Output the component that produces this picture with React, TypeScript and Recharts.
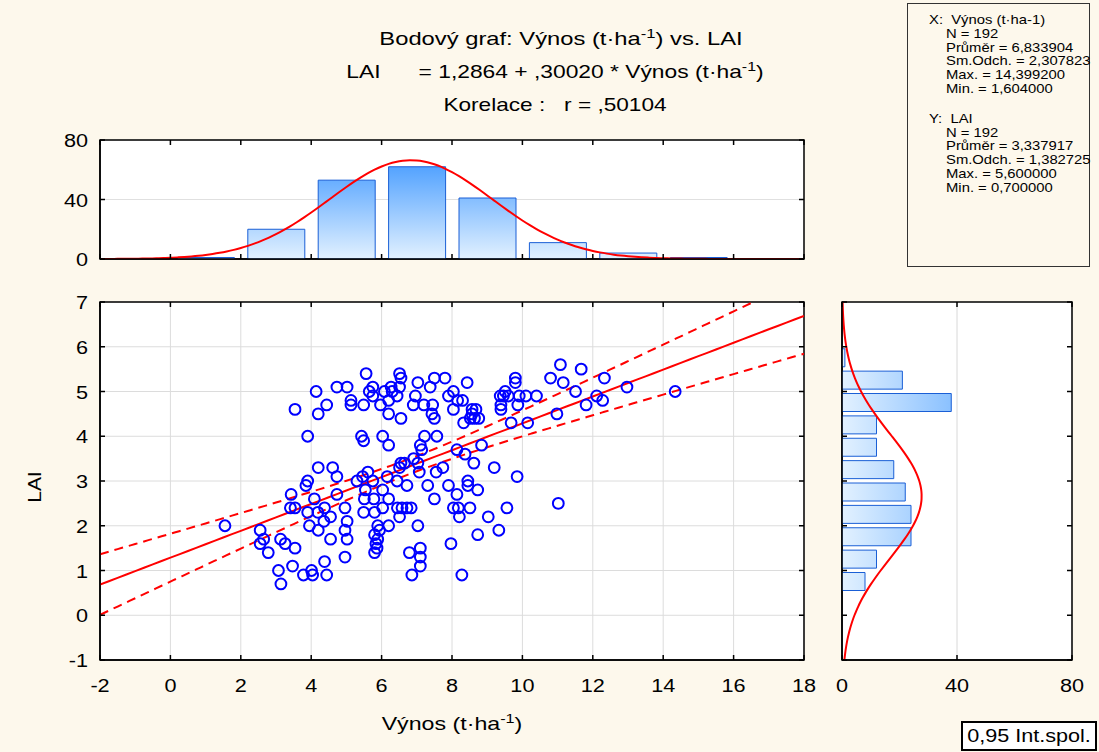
import React from 'react'
import {
  ComposedChart,
  Scatter,
  Line,
  Bar,
  XAxis,
  YAxis,
  CartesianGrid,
  ReferenceArea,
} from 'recharts'

const FONT = '"Liberation Sans", Arial, sans-serif'

// scatter: Výnos (t·ha-1) vs LAI
const yieldVals = [
  5.56, 6.51, 6.55, 4.73, 5.02, 4.14, 5.75, 5.65, 5.75, 6.08, 6.27, 6.3, 6.51, 6.44, 6.2, 7.03, 7.38, 7.5, 7.8, 6.96,
  5.13, 5.13, 4.44, 3.54, 4.2, 5.49, 5.97, 6.2, 6.55, 6.9, 7.2, 7.45, 7.43, 7.5, 3.9, 5.43, 5.49, 6.03, 6.2, 7.22,
  7.57, 7.1, 7.14, 6.91, 4.2, 4.61, 5.61, 8.43, 7.9, 8.04, 8.16, 8.3, 8.04, 8.57, 8.68, 8.57, 8.64, 8.76, 8.52, 8.33,
  9.37, 9.51, 9.46, 9.6, 9.8, 9.8, 9.91, 10.1, 10.4, 9.39, 9.39, 9.87, 9.68, 10.15, 10.8, 11.08, 11.16, 11.67, 12.33, 11.51,
  10.98, 11.81, 12.11, 12.28, 12.97, 14.34, 8.84, 8.14, 8.37, 8.62, 9.2, 7.74, 1.55, 2.55, 2.65, 2.55, 2.78, 3.13, 3.26, 3.54,
  3.07, 3.14, 3.47, 3.78, 4.01, 4.04, 4.44, 4.38, 3.43, 3.41, 3.54, 3.9, 3.85, 4.73, 4.73, 4.09, 3.9, 4.19, 4.38, 4.55,
  4.36, 3.95, 4.2, 4.55, 4.96, 5.02, 4.96, 5.02, 4.96, 5.3, 5.46, 5.54, 5.51, 5.49, 5.78, 5.8, 5.75, 6.03, 6.2, 6.03,
  5.89, 5.94, 5.8, 5.89, 5.84, 5.8, 5.87, 6.2, 6.16, 6.44, 6.72, 6.45, 6.58, 6.72, 6.84, 6.51, 7.03, 6.79, 7.1, 7.1,
  7.1, 6.86, 7.31, 7.5, 7.55, 7.07, 9.85, 7.9, 8.45, 8.45, 8.73, 8.14, 8.04, 8.18, 8.51, 8.21, 9.03, 9.56, 11.02, 9.33,
  8.73, 7.97, 8.28, 6.55, 6.65, 6.51, 7.03,
]
const laiVals = [
  5.4, 5.4, 5.3, 5.1, 5.1, 5.0, 5.1, 5.0, 4.9, 5.0, 5.1, 5.0, 5.1, 4.9, 4.8, 5.2, 5.1, 5.3, 5.3, 4.9,
  4.8, 4.7, 4.7, 4.6, 4.5, 4.7, 4.7, 4.5, 4.4, 4.7, 4.7, 4.7, 4.5, 4.4, 4.0, 4.0, 3.9, 4.0, 3.8, 4.0,
  4.0, 3.8, 3.7, 3.5, 3.3, 3.3, 3.2, 5.2, 4.9, 5.0, 4.8, 4.8, 4.6, 4.6, 4.6, 4.5, 4.4, 4.4, 4.4, 4.3,
  4.9, 5.0, 4.9, 4.9, 5.3, 5.2, 4.9, 4.9, 4.9, 4.7, 4.6, 4.7, 4.3, 4.3, 5.3, 5.6, 5.2, 5.5, 5.3, 5.0,
  4.5, 4.7, 4.9, 4.8, 5.1, 5.0, 3.8, 3.7, 3.6, 3.4, 3.3, 3.3, 2.0, 1.9, 1.7, 1.6, 1.4, 1.7, 1.6, 1.5,
  1.0, 0.7, 1.1, 0.9, 1.0, 0.9, 0.9, 1.2, 2.7, 2.4, 2.4, 3.0, 2.9, 3.1, 2.7, 2.6, 2.3, 2.3, 2.4, 2.2,
  2.1, 2.0, 1.9, 1.7, 2.4, 2.1, 1.9, 1.7, 1.3, 3.0, 3.1, 2.8, 2.6, 2.3, 2.6, 2.3, 3.0, 2.8, 2.6, 2.4,
  2.0, 1.9, 1.8, 1.7, 1.6, 1.4, 1.5, 2.0, 3.1, 3.0, 2.9, 2.4, 2.4, 2.4, 2.4, 2.2, 2.0, 1.4, 1.5, 1.3,
  1.1, 0.9, 2.9, 2.6, 3.2, 3.2, 3.1, 2.9, 3.0, 2.9, 2.8, 2.7, 2.4, 2.4, 2.4, 2.2, 2.2, 2.4, 2.5, 1.9,
  1.8, 1.6, 0.9, 3.4, 3.4, 3.3, 3.4,
]

// histogram of Výnos: bins of 2 t/ha from -2 to 18
const topBinStarts = [-2, 0, 2, 4, 6, 8, 10, 12, 14, 16]
const topBinCounts = [0, 1, 20, 53, 62, 41, 11, 4, 1, 0]
// histogram of LAI: bins of 0.5, listed top (6.5) to bottom (-1)
const laiBinStarts = [6.5, 6, 5.5, 5, 4.5, 4, 3.5, 3, 2.5, 2, 1.5, 1, 0.5, 0, -0.5, -1]
const laiBinCounts = [0, 0, 1, 21, 38, 12, 12, 18, 22, 24, 24, 12, 8, 0, 0, 0]

const xTicks = [-2, 0, 2, 4, 6, 8, 10, 12, 14, 16, 18]
const yTicks = [-1, 0, 1, 2, 3, 4, 5, 6, 7]
const countTicks = [0, 40, 80]

// stats from the summary box
const N = 192
const MEAN_X = 6.833904
const SD_X = 2.307823
const MEAN_Y = 3.337917
const SD_Y = 1.382725
const INTERCEPT = 1.2864
const SLOPE = 0.3002
const R = 0.50104
const T95 = 1.9725

const points = yieldVals.map((x, i) => ({ x, y: laiVals[i] }))
const topBins = topBinStarts.map((s, i) => ({ bin: `${s}`, x: s + 1, count: topBinCounts[i] }))
const laiBins = laiBinStarts.map((s, i) => ({ bin: `${s}`, lai: s + 0.25, count: laiBinCounts[i] }))

// fitted line + 95% band of the mean
const sRes = SD_Y * Math.sqrt(1 - R * R) * Math.sqrt((N - 1) / (N - 2))
const sxx = (N - 1) * SD_X * SD_X
const fitData = Array.from({ length: 81 }, (_, i) => {
  const x = -2 + i * 0.25
  const fit = INTERCEPT + SLOPE * x
  const half = T95 * sRes * Math.sqrt(1 / N + (x - MEAN_X) ** 2 / sxx)
  return { x, fit, lo: fit - half, hi: fit + half }
})

const pdf = (v: number, m: number, s: number) =>
  Math.exp(-0.5 * ((v - m) / s) ** 2) / (s * Math.sqrt(2 * Math.PI))
const topCurve = Array.from({ length: 101 }, (_, i) => {
  const x = -2 + i * 0.2
  return { x, curve: N * 2 * pdf(x, MEAN_X, SD_X) }
})
const laiCurve = Array.from({ length: 81 }, (_, i) => {
  const lai = -1 + i * 0.1
  return { lai, curve: N * 0.5 * pdf(lai, MEAN_Y, SD_Y) }
})

const TICK_FS = 19
const TICK_SX = 1.14

// ticks drawn inward on both sides of the frame
function BottomTick(props: any) {
  const { x, y, payload, plotH, showLabel } = props
  return (
    <g>
      <line x1={x} y1={y} x2={x} y2={y - 5} stroke="#000" strokeWidth={1.5} />
      <line x1={x} y1={y - plotH} x2={x} y2={y - plotH + 5} stroke="#000" strokeWidth={1.5} />
      {showLabel && (
        <text
          transform={`translate(${x},${y + 32}) scale(${TICK_SX},1)`}
          textAnchor="middle"
          fontSize={TICK_FS}
          fontFamily={FONT}
          fill="#000"
        >
          {payload.value}
        </text>
      )}
    </g>
  )
}

function LeftTick(props: any) {
  const { x, y, payload, plotW, showLabel } = props
  return (
    <g>
      <line x1={x} y1={y} x2={x + 5} y2={y} stroke="#000" strokeWidth={1.5} />
      <line x1={x + plotW} y1={y} x2={x + plotW - 5} y2={y} stroke="#000" strokeWidth={1.5} />
      {showLabel && (
        <text
          transform={`translate(${x - 12},${y + 7}) scale(${TICK_SX},1)`}
          textAnchor="end"
          fontSize={TICK_FS}
          fontFamily={FONT}
          fill="#000"
        >
          {payload.value}
        </text>
      )}
    </g>
  )
}

const Ring = (p: any) => (
  <circle cx={p.cx} cy={p.cy} r={5.4} fill="none" stroke="#0000ff" strokeWidth={2} />
)

const Sup = () => <sup style={{ fontSize: '0.7em', verticalAlign: '0.55em', lineHeight: 0 }}>-1</sup>

const abs = (left: number, top: number): React.CSSProperties => ({ position: 'absolute', left, top })
const stretch = (sx: number): React.CSSProperties => ({ transform: `scaleX(${sx})`, transformOrigin: 'center' })
const boxLine = (left: number, top: number): React.CSSProperties => ({
  position: 'absolute',
  left,
  top,
  transform: 'scaleX(1.14)',
  transformOrigin: 'left',
  whiteSpace: 'pre',
})

export default function App() {
  return (
    <div
      style={{
        position: 'absolute',
        left: 0,
        top: 0,
        width: 1099,
        height: 752,
        background: '#fdf8ec',
        fontFamily: FONT,
        color: '#000',
        overflow: 'hidden',
      }}
    >
      {/* Titles */}
      <div style={{ ...abs(0, 28), width: 1122, textAlign: 'center', fontSize: 19, ...stretch(1.25) }}>
        Bodový graf: Výnos (t·ha<Sup />) vs. LAI
      </div>
      <div style={{ ...abs(0, 61), width: 1110, textAlign: 'center', fontSize: 19, whiteSpace: 'pre', ...stretch(1.2) }}>
        {'LAI      = 1,2864 + ,30020 * Výnos (t·ha'}
        <Sup />)
      </div>
      <div style={{ ...abs(0, 94), width: 1110, textAlign: 'center', fontSize: 19, whiteSpace: 'pre', ...stretch(1.19) }}>
        {'Korelace :   r = ,50104'}
      </div>

      {/* Stats box */}
      <div
        style={{
          ...abs(907, 3),
          width: 183,
          height: 264,
          border: '1px solid #333',
          boxSizing: 'border-box',
          fontSize: 13,
          lineHeight: '13.8px',
        }}
      >
        <div style={boxLine(21, 9)}>{'X:  Výnos (t·ha-1)'}</div>
        <div style={boxLine(38, 22.8)}>
          N = 192<br />Průměr = 6,833904<br />Sm.Odch. = 2,307823<br />Max. = 14,399200<br />Min. = 1,604000
        </div>
        <div style={boxLine(21, 108)}>{'Y:  LAI'}</div>
        <div style={boxLine(38, 121.6)}>
          N = 192<br />Průměr = 3,337917<br />Sm.Odch. = 1,382725<br />Max. = 5,600000<br />Min. = 0,700000
        </div>
      </div>

      {/* Top histogram */}
      <div style={abs(0, 128)}>
        <ComposedChart width={820} height={150} data={topBins} margin={{ top: 12, right: 16, bottom: 10, left: 0 }}>
          <defs>
            <linearGradient id="topGrad" gradientUnits="userSpaceOnUse" x1="0" y1="131" x2="0" y2="12">
              <stop offset="0" stopColor="#e2f1ff" />
              <stop offset="1" stopColor="#2a8cff" />
            </linearGradient>
          </defs>
          <CartesianGrid xAxisId="num" vertical={false} stroke="#e0e0e0" fill="#ffffff" />
          <XAxis xAxisId="cat" dataKey="bin" type="category" orientation="top" height={0} hide />
          <XAxis
            xAxisId="num"
            dataKey="x"
            type="number"
            domain={[-2, 18]}
            ticks={xTicks}
            allowDataOverflow
            height={9}
            axisLine={{ stroke: '#000', strokeWidth: 1.5 }}
            tickLine={false}
            tickSize={0}
            tickMargin={0}
            interval={0}
            tick={(p: any) => <BottomTick {...p} plotH={119} showLabel={false} />}
          />
          <YAxis
            type="number"
            domain={[0, 80]}
            ticks={countTicks}
            allowDataOverflow
            width={100}
            axisLine={{ stroke: '#000', strokeWidth: 1.5 }}
            tickLine={false}
            tickSize={0}
            tickMargin={0}
            interval={0}
            tick={(p: any) => <LeftTick {...p} plotW={704} showLabel />}
          />
          <Bar
            xAxisId="cat"
            dataKey="count"
            barSize={57}
            fill="url(#topGrad)"
            stroke="#1a5fd6"
            strokeWidth={1}
            isAnimationActive={false}
          />
          <Line
            xAxisId="num"
            data={topCurve}
            dataKey="curve"
            type="monotone"
            stroke="#ff0000"
            strokeWidth={2}
            dot={false}
            activeDot={false}
            isAnimationActive={false}
          />
          <ReferenceArea xAxisId="num" x1={-2} x2={18} y1={0} y2={80} fill="none" stroke="#000" strokeWidth={1.5} />
        </ComposedChart>
      </div>

      {/* Scatter with fit */}
      <div style={abs(0, 290)}>
        <ComposedChart width={820} height={460} data={fitData} margin={{ top: 12, right: 16, bottom: 0, left: 0 }}>
          <CartesianGrid stroke="#dcdcdc" fill="#ffffff" />
          <XAxis
            dataKey="x"
            type="number"
            domain={[-2, 18]}
            ticks={xTicks}
            allowDataOverflow
            height={90}
            axisLine={{ stroke: '#000', strokeWidth: 1.5 }}
            tickLine={false}
            tickSize={0}
            tickMargin={0}
            interval={0}
            tick={(p: any) => <BottomTick {...p} plotH={358} showLabel />}
          />
          <YAxis
            dataKey="y"
            type="number"
            domain={[-1, 7]}
            ticks={yTicks}
            allowDataOverflow
            width={100}
            axisLine={{ stroke: '#000', strokeWidth: 1.5 }}
            tickLine={false}
            tickSize={0}
            tickMargin={0}
            interval={0}
            tick={(p: any) => <LeftTick {...p} plotW={704} showLabel />}
          />
          <ReferenceArea x1={-2} x2={18} y1={-1} y2={7} fill="none" stroke="#000" strokeWidth={1.5} />
          <Scatter data={points} shape={Ring} isAnimationActive={false} />
          <Line dataKey="fit" type="linear" stroke="#ff0000" strokeWidth={2} dot={false} activeDot={false} isAnimationActive={false} />
          <Line dataKey="hi" type="monotone" stroke="#ff0000" strokeWidth={2} strokeDasharray="9 6" dot={false} activeDot={false} isAnimationActive={false} />
          <Line dataKey="lo" type="monotone" stroke="#ff0000" strokeWidth={2} strokeDasharray="9 6" dot={false} activeDot={false} isAnimationActive={false} />
        </ComposedChart>
      </div>

      {/* Right histogram (LAI) */}
      <div style={abs(830, 290)}>
        <ComposedChart
          layout="vertical"
          width={260}
          height={460}
          data={laiBins}
          margin={{ top: 12, right: 18, bottom: 0, left: 0 }}
        >
          <defs>
            <linearGradient id="sideGrad" gradientUnits="userSpaceOnUse" x1="12" y1="0" x2="242" y2="0">
              <stop offset="0" stopColor="#e2f1ff" />
              <stop offset="1" stopColor="#2a8cff" />
            </linearGradient>
          </defs>
          <CartesianGrid yAxisId="num" horizontal={false} stroke="#d8d8d8" fill="#ffffff" />
          <XAxis
            type="number"
            domain={[0, 80]}
            ticks={countTicks}
            allowDataOverflow
            height={90}
            axisLine={{ stroke: '#000', strokeWidth: 1.5 }}
            tickLine={false}
            tickSize={0}
            tickMargin={0}
            interval={0}
            tick={(p: any) => <BottomTick {...p} plotH={358} showLabel />}
          />
          <YAxis yAxisId="cat" dataKey="bin" type="category" orientation="right" width={0} hide />
          <YAxis
            yAxisId="num"
            dataKey="lai"
            type="number"
            domain={[-1, 7]}
            ticks={yTicks}
            allowDataOverflow
            width={12}
            axisLine={{ stroke: '#000', strokeWidth: 1.5 }}
            tickLine={false}
            tickSize={0}
            tickMargin={0}
            interval={0}
            tick={(p: any) => <LeftTick {...p} plotW={230} showLabel={false} />}
          />
          <Bar
            yAxisId="cat"
            dataKey="count"
            barSize={18}
            fill="url(#sideGrad)"
            stroke="#1a5fd6"
            strokeWidth={1}
            isAnimationActive={false}
          />
          <Line
            yAxisId="num"
            data={laiCurve}
            dataKey="curve"
            type="monotone"
            stroke="#ff0000"
            strokeWidth={2}
            dot={false}
            activeDot={false}
            isAnimationActive={false}
          />
          <ReferenceArea yAxisId="num" x1={0} x2={80} y1={-1} y2={7} fill="none" stroke="#000" strokeWidth={1.5} />
        </ComposedChart>
      </div>

      {/* Axis titles */}
      <div style={{ ...abs(352, 713), width: 200, textAlign: 'center', fontSize: 19, ...stretch(1.22) }}>
        Výnos (t·ha<Sup />)
      </div>
      <div
        style={{
          ...abs(15, 476),
          width: 40,
          textAlign: 'center',
          fontSize: 19,
          transform: 'rotate(-90deg) scaleX(1.1)',
        }}
      >
        LAI
      </div>

      {/* Legend box */}
      <div
        style={{
          ...abs(961, 721),
          width: 136,
          height: 30,
          border: '2px solid #000',
          boxSizing: 'border-box',
          background: '#fff',
          fontSize: 18,
          lineHeight: '26px',
          textAlign: 'center',
          whiteSpace: 'nowrap',
        }}
      >
        <div style={stretch(1.2)}>0,95 Int.spol.</div>
      </div>
    </div>
  )
}
